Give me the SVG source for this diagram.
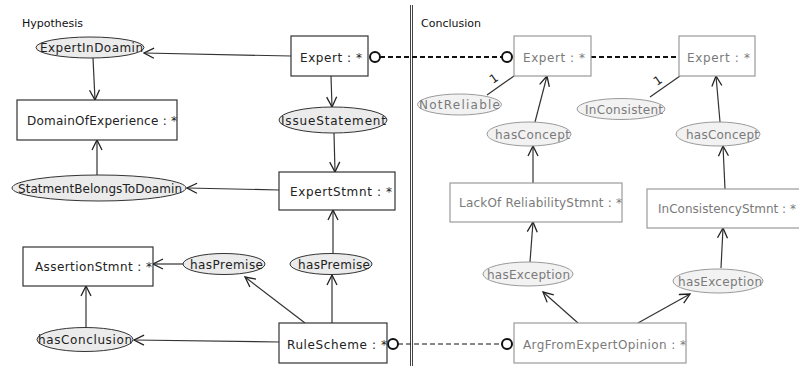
<svg xmlns="http://www.w3.org/2000/svg" width="799" height="366" viewBox="0 0 799 366">
<style>
  text { font-family: "DejaVu Sans", "Liberation Sans", sans-serif; font-size: 12px; }
  .lbl { fill: #111; font-size: 11px; }
  .box { fill: #fff; stroke: #333; stroke-width: 1.2; }
  .ell { fill: #ebebeb; stroke: #333; stroke-width: 1; }
  .gbox { fill: #fff; stroke: #9a9a9a; stroke-width: 1.2; }
  .gell { fill: #f2f2f2; stroke: #9a9a9a; stroke-width: 1; }
  .t { fill: #222; }
  .gt { fill: #7a7a7a; }
  .c { stroke: #333; stroke-width: 1.2; fill: none; marker-end: url(#arr); }
  .plain { stroke: #333; stroke-width: 1.2; fill: none; }
  .dot { stroke: #111; stroke-width: 2; stroke-dasharray: 5 3; fill: none; }
  .dash { stroke: #111; stroke-width: 1; stroke-dasharray: 5 3; fill: none; }
  .circ { fill: #fff; stroke: #111; stroke-width: 2; }
</style>
<defs>
  <marker id="arr" viewBox="0 0 12 12" refX="11" refY="6" markerWidth="12" markerHeight="12" markerUnits="userSpaceOnUse" orient="auto">
    <path d="M1,1 L11,6 L1,11" fill="none" stroke="#222" stroke-width="1.3"/>
  </marker>
</defs>
<rect width="799" height="366" fill="#fff"/>

<text class="lbl" x="22" y="27">Hypothesis</text>
<text class="lbl" x="421" y="27">Conclusion</text>
<g id="divider">
  <line x1="410.5" y1="5" x2="410.5" y2="366" stroke="#444" stroke-width="1"/>
  <line x1="412.5" y1="5" x2="412.5" y2="366" stroke="#444" stroke-width="1"/>
</g>

<g id="connectors">
  <path class="c" d="M291,56 L144,53"/>
  <path class="c" d="M93,58 L95,100"/>
  <path class="c" d="M331,76 L332,107"/>
  <path class="c" d="M334,133 L335,172"/>
  <path class="c" d="M279,190 L187,188"/>
  <path class="c" d="M97,175 L97,140"/>
  <path class="c" d="M333,254 L333,210"/>
  <path class="c" d="M332,323 L332,275"/>
  <path class="c" d="M305,323 L245,277"/>
  <path class="c" d="M183,264 L153,264"/>
  <path class="c" d="M279,342 L134,340"/>
  <path class="c" d="M86,327 L86,286"/>

  <path class="c" d="M535,122 L547,76"/>
  <path class="c" d="M720,122 L716,76"/>
  <path class="c" d="M533,183 L533,146"/>
  <path class="c" d="M725,189 L723,146"/>
  <path class="c" d="M530,262 L533,222"/>
  <path class="c" d="M721,268 L723,228"/>
  <path class="c" d="M578,323 L543,292"/>
  <path class="c" d="M638,323 L690,294"/>

  <path class="plain" d="M487,95 L514,76"/>
  <text class="t" x="0" y="0" transform="translate(493,84) rotate(-35)">1</text>
  <path class="plain" d="M650,97 L680,76"/>
  <text class="t" x="0" y="0" transform="translate(657,86) rotate(-35)">1</text>

  <path class="dot" d="M380,57 L502,57"/>
  <path class="dot" d="M591,57 L679,57"/>
  <path class="dash" d="M398,344 L502,344"/>
  <circle class="circ" cx="375" cy="57" r="5"/>
  <circle class="circ" cx="507" cy="57" r="5"/>
  <circle class="circ" cx="393" cy="344" r="5"/>
  <circle class="circ" cx="507" cy="344" r="5"/>
</g>

<g id="ExpertInDoamin">
  <ellipse class="ell" cx="90" cy="47.5" rx="54" ry="10.5"/>
  <text class="t" x="40" y="52" textLength="103" lengthAdjust="spacing">ExpertInDoamin</text>
</g>
<g id="DomainOfExperience">
  <rect class="box" x="17" y="100" width="160" height="40"/>
  <text class="t" x="27" y="124.5" textLength="150" lengthAdjust="spacing">DomainOfExperience : *</text>
</g>
<g id="Expert">
  <rect class="box" x="291" y="36" width="77" height="40"/>
  <text class="t" x="300" y="61.5" textLength="62" lengthAdjust="spacing">Expert : *</text>
</g>
<g id="IssueStatement">
  <ellipse class="ell" cx="333" cy="120" rx="54" ry="13"/>
  <text class="t" x="281" y="124.5" textLength="105" lengthAdjust="spacing">IssueStatement</text>
</g>
<g id="ExpertStmnt">
  <rect class="box" x="279" y="172" width="116" height="38"/>
  <text class="t" x="290" y="195.5" textLength="102" lengthAdjust="spacing">ExpertStmnt : *</text>
</g>
<g id="StatmentBelongsToDoamin">
  <ellipse class="ell" cx="99" cy="188" rx="87" ry="13"/>
  <text class="t" x="18" y="192.5" textLength="164" lengthAdjust="spacing">StatmentBelongsToDoamin</text>
</g>
<g id="hasPremiseR">
  <ellipse class="ell" cx="331" cy="264" rx="41" ry="10.5"/>
  <text class="t" x="298" y="268.5" textLength="72" lengthAdjust="spacing">hasPremise</text>
</g>
<g id="hasPremiseL">
  <ellipse class="ell" cx="224" cy="264" rx="41" ry="10.5"/>
  <text class="t" x="190" y="268.5" textLength="73" lengthAdjust="spacing">hasPremise</text>
</g>
<g id="AssertionStmnt">
  <rect class="box" x="23" y="247" width="130" height="39"/>
  <text class="t" x="35" y="270.5" textLength="117" lengthAdjust="spacing">AssertionStmnt : *</text>
</g>
<g id="hasConclusion">
  <ellipse class="ell" cx="85" cy="339.5" rx="48" ry="12"/>
  <text class="t" x="38" y="344" textLength="94" lengthAdjust="spacing">hasConclusion</text>
</g>
<g id="RuleScheme">
  <rect class="box" x="279" y="323" width="108" height="40"/>
  <text class="t" x="287" y="348.5" textLength="100" lengthAdjust="spacing">RuleScheme : *</text>
</g>

<g id="Expert1">
  <rect class="gbox" x="514" y="36" width="77" height="40"/>
  <text class="gt" x="523" y="61.5" textLength="62" lengthAdjust="spacing">Expert : *</text>
</g>
<g id="Expert2">
  <rect class="gbox" x="679" y="36" width="76" height="40"/>
  <text class="gt" x="687" y="61.5" textLength="63" lengthAdjust="spacing">Expert : *</text>
</g>
<g id="NotReliable">
  <ellipse class="gell" cx="459.5" cy="104.5" rx="42" ry="10.5"/>
  <text class="gt" x="419" y="109" textLength="81" lengthAdjust="spacing">NotReliable</text>
</g>
<g id="InConsistent">
  <ellipse class="gell" cx="621" cy="109" rx="44" ry="10.5"/>
  <text class="gt" x="585" y="113.5" textLength="78" lengthAdjust="spacing">InConsistent</text>
</g>
<g id="hasConcept1">
  <ellipse class="gell" cx="529" cy="134" rx="42" ry="12"/>
  <text class="gt" x="495" y="138.5" textLength="75" lengthAdjust="spacing">hasConcept</text>
</g>
<g id="hasConcept2">
  <ellipse class="gell" cx="718" cy="134" rx="42" ry="12"/>
  <text class="gt" x="686" y="138.5" textLength="73" lengthAdjust="spacing">hasConcept</text>
</g>
<g id="LackOfReliabilityStmnt">
  <rect class="gbox" x="450" y="183" width="172" height="39"/>
  <text class="gt" x="459" y="206.5" textLength="163" lengthAdjust="spacing">LackOf ReliabilityStmnt : *</text>
</g>
<g id="InConsistencyStmnt">
  <rect class="gbox" x="647" y="189" width="160" height="39"/>
  <text class="gt" x="658" y="212.5" textLength="138" lengthAdjust="spacing">InConsistencyStmnt : *</text>
</g>
<g id="hasException1">
  <ellipse class="gell" cx="528" cy="274" rx="45" ry="12"/>
  <text class="gt" x="487" y="278.5" textLength="83" lengthAdjust="spacing">hasException</text>
</g>
<g id="hasException2">
  <ellipse class="gell" cx="718" cy="281" rx="45" ry="12"/>
  <text class="gt" x="678" y="285.5" textLength="84" lengthAdjust="spacing">hasException</text>
</g>
<g id="ArgFromExpertOpinion">
  <rect class="gbox" x="514" y="323" width="172" height="40"/>
  <text class="gt" x="523" y="348.5" textLength="163" lengthAdjust="spacing">ArgFromExpertOpinion : *</text>
</g>
</svg>
